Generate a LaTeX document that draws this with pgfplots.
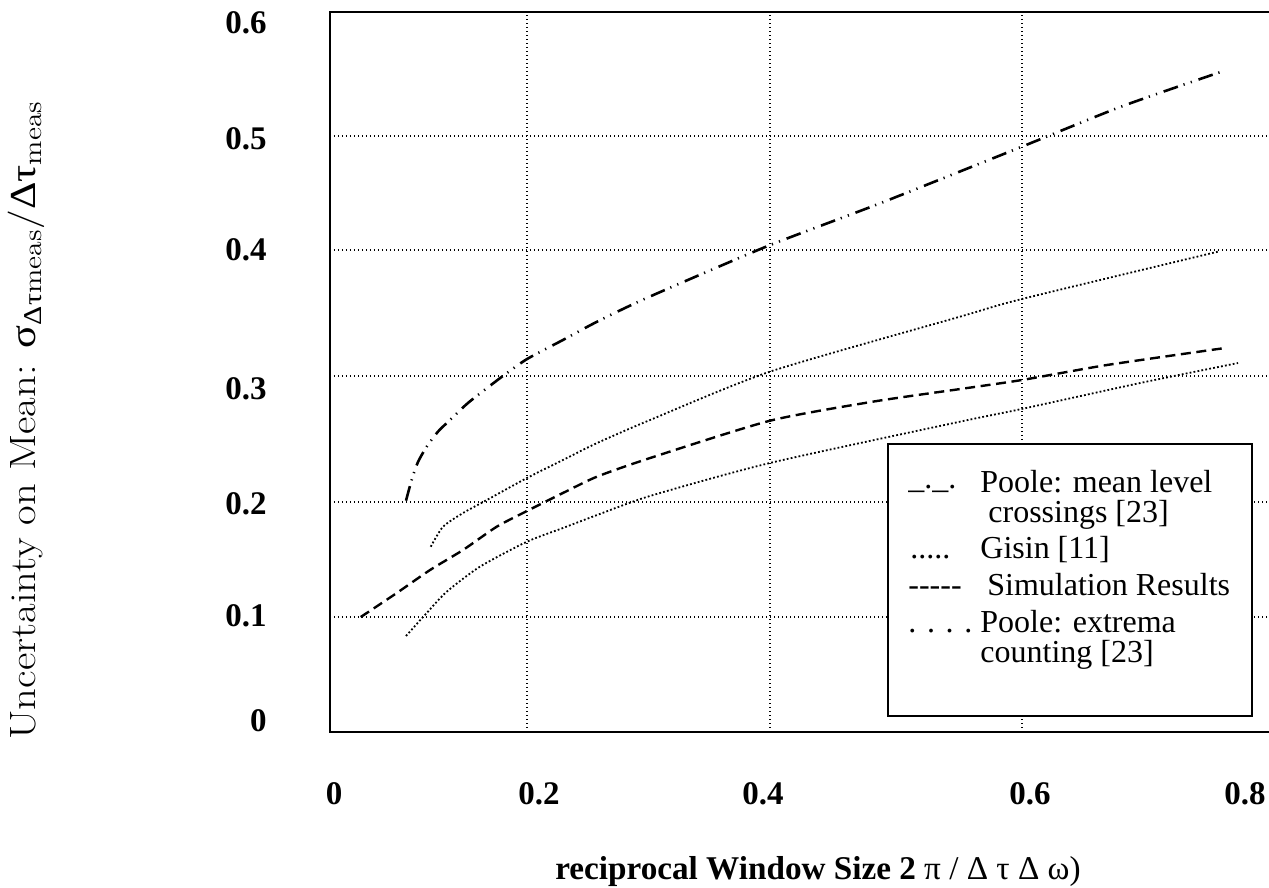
\documentclass[border=0pt]{standalone}
\usepackage{fontspec}
\usepackage{graphicx}
\usepackage{pgfplots}
\pgfplotsset{compat=1.18}
\setmainfont{Liberation Serif}
\newfontfamily\lmr{Latin Modern Roman}
\begin{document}
\begin{tikzpicture}
\begin{axis}[
  scale only axis, width=471pt, height=360pt,
  xmin=0, xmax=0.8191, ymin=0, ymax=0.6,
  axis line style={line width=1.2pt},
  xtick={0.0035,0.1817,0.3765,0.6087,0.7957},
  xticklabels={0,0.2,0.4,0.6,0.8},
  ytick={0.0092,0.0967,0.19,0.2858,0.4017,0.4942,0.5911},
  yticklabels={0,0.1,0.2,0.3,0.4,0.5,0.6},
  major tick length=0pt,
  xticklabel style={font=\fontsize{16.5}{16.5}\selectfont\bfseries, anchor=north, inner sep=0pt, yshift=-25pt},
  yticklabel style={font=\fontsize{16.5}{16.5}\selectfont\bfseries, anchor=east, inner sep=0pt, xshift=-31.5pt},
  extra x ticks={0.1713,0.3826,0.6017},
  extra y ticks={0.0958,0.1917,0.2967,0.4017,0.4967},
  extra x tick labels={}, extra y tick labels={},
  extra tick style={grid=major, major tick length=0pt},
  major grid style={black, line width=0.7pt, dash pattern=on 0.7pt off 1.3pt},
]
% Poole: mean level crossings
\addplot[black, line width=1.3pt, smooth, tension=0.4, dash pattern=on 7.5pt off 3pt on 0.6pt off 3.2pt on 0.6pt off 3.5pt] coordinates {
(0.0661,0.1928) (0.0710,0.2100) (0.0765,0.2250) (0.0841,0.2378) (0.0939,0.2503)
(0.1043,0.2600) (0.1189,0.2733) (0.1304,0.2821) (0.1504,0.2967) (0.1713,0.3108)
(0.2026,0.3267) (0.2322,0.3419) (0.2754,0.3617) (0.3791,0.4044) (0.4789,0.4408)
(0.6017,0.4878) (0.6878,0.5211) (0.7753,0.5503)
};
% Gisin
\addplot[black, line width=0.9pt, smooth, tension=0.4, dash pattern=on 0.9pt off 1.1pt] coordinates {
(0.0876,0.1544) (0.0983,0.1711) (0.1157,0.1825) (0.1363,0.1933) (0.1713,0.2117)
(0.2026,0.2267) (0.2322,0.2408) (0.2783,0.2600) (0.3826,0.3003) (0.5478,0.3461)
(0.6015,0.3608) (0.7722,0.4003)
};
% Simulation Results
\addplot[black, line width=1.2pt, smooth, tension=0.4, dash pattern=on 5pt off 2.8pt] coordinates {
(0.0267,0.0958) (0.0580,0.1158) (0.0870,0.1350) (0.1157,0.1517) (0.1450,0.1711)
(0.1713,0.1842) (0.2026,0.1992) (0.2322,0.2128) (0.2783,0.2283) (0.3826,0.2594)
(0.4722,0.2753) (0.5478,0.2858) (0.6015,0.2933) (0.6754,0.3058) (0.7783,0.3200)
};
% Poole: extrema counting
\addplot[black, line width=0.9pt, smooth, tension=0.4, dash pattern=on 0.9pt off 1.1pt] coordinates {
(0.0661,0.0800) (0.0841,0.0992) (0.1015,0.1169) (0.1304,0.1378) (0.1713,0.1586)
(0.2026,0.1700) (0.2322,0.1808) (0.2783,0.1967) (0.3826,0.2242) (0.5478,0.2586)
(0.6015,0.2692) (0.7043,0.2908) (0.7896,0.3075)
};
\end{axis}
\draw[line width=1pt, fill=white] (279pt,8pt) rectangle (461pt,144pt);
\begin{scope}[every node/.style={inner sep=0pt, anchor=base west, font=\fontsize{16}{16}\selectfont}]
\node at (289pt,121.5pt) {\_.\_.};
\node at (325pt,119.5pt) {Poole: mean level};
\node at (329pt,104.5pt) {crossings [23]};
\node at (290pt,86.5pt) {.....};
\node at (325pt,86.5pt) {Gisin [11]};
\node at (289pt,68pt) {-{}-{}-{}-{}-};
\node at (328.5pt,68pt) {Simulation Results};
\node at (289pt,49.5pt) {. . . .};
\node at (325pt,49.5pt) {Poole: extrema};
\node at (325pt,34.5pt) {counting [23]};
\end{scope}
\node[rotate=90, anchor=base, inner sep=0pt] at (-147pt,156pt) {\scalebox{1.165}[1]{\fontsize{18.3}{18.3}\selectfont{\lmr Uncertainty on Mean: }σ\textsubscript{Δτ{\lmr meas}}{\lmr /}Δτ\textsubscript{\lmr meas}}};
\node[anchor=base, inner sep=0pt] at (244pt,-74pt) {\fontsize{16.6}{16.6}\selectfont\textbf{reciprocal Window Size 2} π / Δ τ Δ ω)};
\pgfresetboundingbox
\path (-165pt,-78pt) rectangle (469.5pt,366pt);
\end{tikzpicture}
\end{document}
